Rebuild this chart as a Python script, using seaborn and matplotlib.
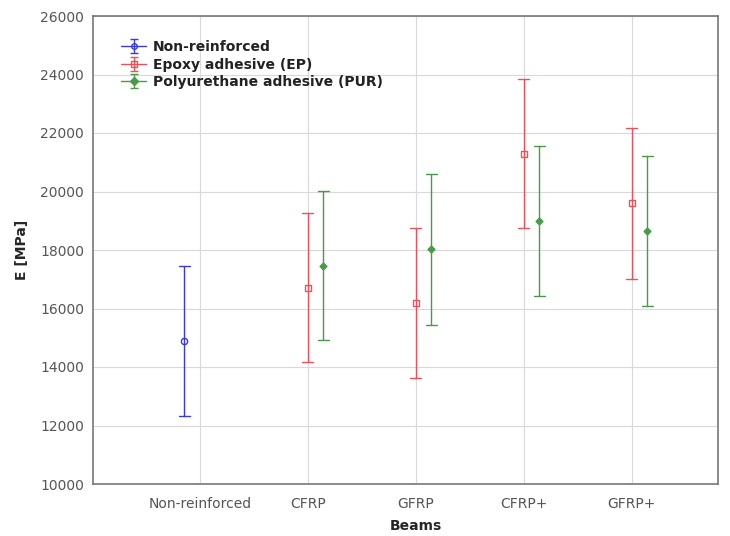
import numpy as np
import pandas as pd
import matplotlib
matplotlib.use("Agg")
import matplotlib.pyplot as plt
import seaborn as sns

beams = ["Non-reinforced", "CFRP", "GFRP", "CFRP+", "GFRP+"]
series = ["Non-reinforced", "Epoxy adhesive (EP)", "Polyurethane adhesive (PUR)"]

# (beam, series, mean, half-width of interval)
beam_col = ["Non-reinforced", "CFRP", "CFRP", "GFRP", "GFRP", "CFRP+", "CFRP+", "GFRP+", "GFRP+"]
series_col = ["Non-reinforced", "Epoxy adhesive (EP)", "Polyurethane adhesive (PUR)",
              "Epoxy adhesive (EP)", "Polyurethane adhesive (PUR)",
              "Epoxy adhesive (EP)", "Polyurethane adhesive (PUR)",
              "Epoxy adhesive (EP)", "Polyurethane adhesive (PUR)"]
means = [14895, 16713, 17470, 16198, 18024, 21290, 18990, 19600, 18660]
half = [2570, 2550, 2560, 2570, 2590, 2545, 2565, 2575, 2565]

colors = {"Non-reinforced": "#3a3ad6", "Epoxy adhesive (EP)": "#e8525a",
          "Polyurethane adhesive (PUR)": "#4a9a4a"}
markers = ["o", "s", "D"]

rows = []
for b, s, m, h in zip(beam_col, series_col, means, half):
    for v in (m - h, m, m + h):
        rows.append({"Beams": b, "Series": s, "E": v})
df = pd.DataFrame(rows)

sns.set_theme(style="whitegrid")
plt.rcParams["font.family"] = ["DejaVu Sans"]

fig = plt.figure(figsize=(7.30, 5.36), dpi=100)
ax = fig.add_axes([93 / 730, 1 - 484 / 536, (718 - 93) / 730, (484 - 16) / 536])

sns.pointplot(data=df, x="Beams", y="E", hue="Series", order=beams, hue_order=series,
              estimator="median", errorbar=lambda v: (v.min(), v.max()),
              dodge=0.29, linestyle="none", markers=markers, palette=colors,
              capsize=0.1, err_kws={"linewidth": 1.0}, markersize=4.5,
              markeredgewidth=1.0, ax=ax, legend=False)

for ln in ax.lines:
    if ln.get_marker() in ("o", "s"):
        ln.set_markerfacecolor("none")
    if ln.get_marker() == "D":
        ln.set_markersize(3.5)

ax.set_ylim(10000, 26000)
ax.set_yticks(np.arange(10000, 26001, 2000))
ax.set_xlim(-0.99, 4.8)
ax.set_xlabel("Beams", fontsize=10, fontweight="bold", labelpad=5)
ax.xaxis.set_label_coords((416 - 93) / 625, -0.075)
ax.set_ylabel("E [MPa]", fontsize=10, fontweight="bold", labelpad=8)
ax.tick_params(axis="both", labelsize=10, colors="#666666", labelcolor="#555555",
               direction="out", length=3, width=0.8)
ax.tick_params(axis="x", pad=6)
ax.grid(True, color="#d9d9d9", linewidth=0.8)
for sp in ax.spines.values():
    sp.set_visible(True)
    sp.set_color("#777777")
    sp.set_linewidth(1.2)

# legend proxies in errorbar style
handles = []
for s, mk in zip(series, markers):
    c = ax.errorbar([np.nan], [np.nan], yerr=[1], color=colors[s], marker=mk,
                    markersize=4, mfc="none" if mk != "D" else colors[s],
                    capsize=3, linewidth=1.0)
    handles.append(c)
leg = ax.legend(handles, series, loc="upper left", bbox_to_anchor=(0.025, 0.975),
                frameon=False, prop={"size": 10, "weight": "bold"},
                handlelength=1.8, handletextpad=0.5, labelspacing=0.25)
for t in leg.get_texts():
    t.set_color("#222222")

fig.savefig("out.png", dpi=100)
